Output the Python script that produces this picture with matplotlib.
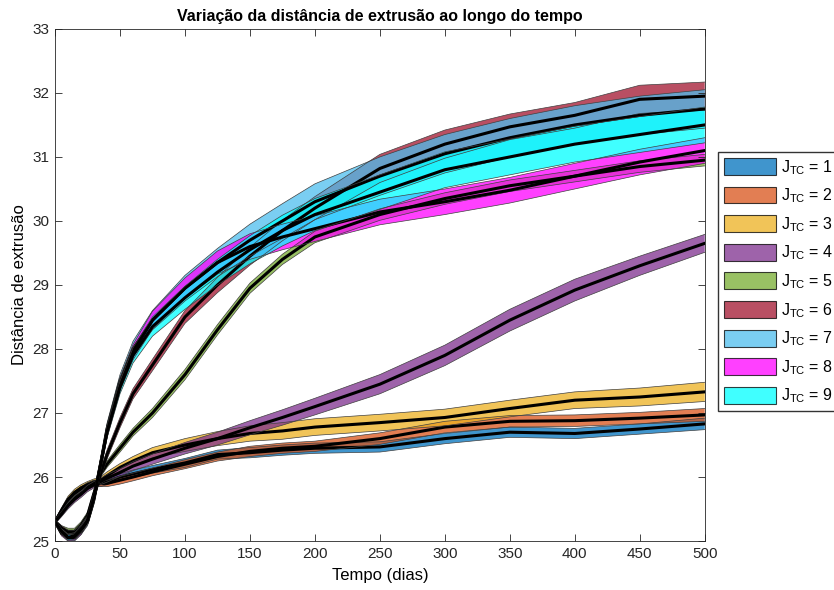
import matplotlib
matplotlib.use("Agg")
import matplotlib.pyplot as plt
from matplotlib.patches import Patch
import numpy as np

plt.rcParams["font.family"] = ["Liberation Sans", "DejaVu Sans"]
plt.rcParams["mathtext.default"] = "regular"

# sample days (dias)
days = [0, 5, 10, 15, 20, 25, 30, 35, 40, 50, 60, 75, 100, 125, 150, 175, 200,
        250, 300, 350, 400, 450, 500]

# mean extrusion distance per J_TC value
mean_j1 = [25.3, 25.47, 25.62, 25.72, 25.8, 25.86, 25.9, 25.9, 25.93, 26.0, 26.05, 26.12, 26.22,
           26.35, 26.38, 26.42, 26.45, 26.47, 26.6, 26.7, 26.68, 26.75, 26.83]
mean_j2 = [25.3, 25.45, 25.6, 25.7, 25.79, 25.86, 25.9, 25.9, 25.9, 25.95, 26.0, 26.08, 26.2,
           26.32, 26.4, 26.45, 26.48, 26.6, 26.78, 26.87, 26.88, 26.92, 26.97]
mean_j3 = [25.3, 25.48, 25.65, 25.76, 25.83, 25.88, 25.92, 25.95, 26.02, 26.15, 26.25, 26.38, 26.5,
           26.6, 26.68, 26.72, 26.78, 26.85, 26.93, 27.07, 27.2, 27.25, 27.33]
mean_j4 = [25.3, 25.42, 25.55, 25.65, 25.73, 25.82, 25.88, 25.93, 25.98, 26.07, 26.17, 26.28, 26.45,
           26.6, 26.77, 26.93, 27.1, 27.45, 27.9, 28.45, 28.92, 29.3, 29.65]
mean_j5 = [25.3, 25.2, 25.15, 25.15, 25.25, 25.4, 25.75, 26.05, 26.2, 26.45, 26.7, 27.0, 27.6,
           28.3, 28.95, 29.4, 29.75, 30.1, 30.35, 30.55, 30.7, 30.85, 30.95]
mean_j6 = [25.3, 25.2, 25.12, 25.12, 25.2, 25.35, 25.7, 26.05, 26.35, 26.85, 27.3, 27.75, 28.5,
           29.0, 29.45, 29.85, 30.2, 30.82, 31.2, 31.47, 31.65, 31.9, 31.95]
mean_j7 = [25.3, 25.15, 25.05, 25.05, 25.15, 25.3, 25.65, 26.2, 26.75, 27.5, 28.0, 28.45, 28.95,
           29.35, 29.7, 30.0, 30.3, 30.7, 31.05, 31.3, 31.5, 31.65, 31.75]
mean_j8 = [25.3, 25.12, 25.05, 25.06, 25.15, 25.32, 25.7, 26.2, 26.7, 27.45, 27.95, 28.45, 28.95,
           29.35, 29.6, 29.75, 29.88, 30.14, 30.3, 30.48, 30.7, 30.92, 31.1]
mean_j9 = [25.3, 25.15, 25.06, 25.08, 25.18, 25.32, 25.68, 26.18, 26.7, 27.4, 27.9, 28.35, 28.8,
           29.2, 29.55, 29.85, 30.1, 30.45, 30.8, 31.0, 31.2, 31.35, 31.5]

# half width of the shaded band around each mean
hw_j1 = [0.03, 0.04, 0.05, 0.05, 0.05, 0.05, 0.05, 0.05, 0.05, 0.05, 0.06, 0.06, 0.07, 0.07, 0.08,
         0.08, 0.08, 0.08, 0.08, 0.08, 0.08, 0.08, 0.09]
hw_j2 = [0.03, 0.04, 0.05, 0.05, 0.05, 0.05, 0.05, 0.05, 0.05, 0.06, 0.06, 0.06, 0.07, 0.07, 0.08,
         0.08, 0.08, 0.09, 0.09, 0.09, 0.09, 0.09, 0.1]
hw_j3 = [0.03, 0.04, 0.05, 0.05, 0.05, 0.05, 0.05, 0.05, 0.06, 0.06, 0.07, 0.08, 0.1, 0.11, 0.12,
         0.13, 0.13, 0.13, 0.13, 0.13, 0.13, 0.14, 0.15]
hw_j4 = [0.03, 0.04, 0.05, 0.05, 0.05, 0.05, 0.05, 0.05, 0.06, 0.06, 0.07, 0.08, 0.09, 0.1, 0.11,
         0.12, 0.13, 0.15, 0.16, 0.17, 0.17, 0.15, 0.14]
hw_j5 = [0.03, 0.04, 0.05, 0.05, 0.05, 0.05, 0.05, 0.05, 0.05, 0.06, 0.06, 0.07, 0.08, 0.08, 0.08,
         0.08, 0.09, 0.09, 0.09, 0.09, 0.09, 0.09, 0.09]
hw_j6 = [0.03, 0.04, 0.05, 0.05, 0.05, 0.05, 0.06, 0.06, 0.07, 0.08, 0.08, 0.09, 0.1, 0.12, 0.14,
         0.16, 0.18, 0.22, 0.22, 0.2, 0.2, 0.22, 0.22]
hw_j7 = [0.03, 0.04, 0.05, 0.05, 0.05, 0.06, 0.07, 0.08, 0.09, 0.1, 0.12, 0.15, 0.2, 0.22, 0.25,
         0.27, 0.28, 0.3, 0.3, 0.3, 0.3, 0.3, 0.3]
hw_j8 = [0.03, 0.04, 0.05, 0.05, 0.05, 0.06, 0.07, 0.08, 0.09, 0.1, 0.12, 0.14, 0.16, 0.18, 0.2,
         0.2, 0.2, 0.2, 0.2, 0.2, 0.2, 0.2, 0.2]
hw_j9 = [0.03, 0.04, 0.05, 0.05, 0.05, 0.06, 0.07, 0.08, 0.09, 0.1, 0.12, 0.15, 0.18, 0.2, 0.22,
         0.24, 0.25, 0.27, 0.28, 0.28, 0.28, 0.28, 0.28]

labels = [f"J$_{{TC}}$ = {j}" for j in range(1, 10)]
colors = [(0.0, 0.447, 0.741), (0.85, 0.325, 0.098), (0.929, 0.694, 0.125),
          (0.494, 0.184, 0.556), (0.466, 0.674, 0.188), (0.635, 0.078, 0.184),
          (0.301, 0.745, 0.933), (1.0, 0.0, 1.0), (0.0, 1.0, 1.0)]
means = [mean_j1, mean_j2, mean_j3, mean_j4, mean_j5, mean_j6, mean_j7, mean_j8, mean_j9]
widths = [hw_j1, hw_j2, hw_j3, hw_j4, hw_j5, hw_j6, hw_j7, hw_j8, hw_j9]
alpha = 0.75

fig = plt.figure(figsize=(8.34, 5.90), dpi=100)
ax = fig.add_axes([0.066, 0.083, 0.779, 0.868])

t = np.array(days)
for m, w, c in zip(means, widths, colors):
    m = np.array(m)
    w = np.array(w)
    # band, thin dark outline, then the mean on top
    ax.fill_between(t, m - w, m + w, facecolor=c, alpha=alpha,
                    edgecolor="none")
    ax.plot(t, m - w, color="0.25", lw=0.5)
    ax.plot(t, m + w, color="0.25", lw=0.5)
    ax.plot(t, m, color="black", lw=2.2)

ax.set_xlim(0, 500)
ax.set_ylim(25, 33)
ax.set_xticks(range(0, 501, 50))
ax.set_yticks(range(25, 34))
ax.tick_params(direction="in", top=True, right=True, labelsize=11,
               length=5, width=0.6, colors="0.15", pad=4)
for s in ax.spines.values():
    s.set_color("0.15")
    s.set_linewidth(0.6)

ax.set_title("Variação da distância de extrusão ao longo do tempo",
             fontsize=11.5, fontweight="bold", pad=6)
ax.set_xlabel("Tempo (dias)", fontsize=12, labelpad=5)
ax.set_ylabel("Distância de extrusão", fontsize=12, labelpad=4)

handles = [Patch(facecolor=c, alpha=alpha, edgecolor="black", linewidth=0.8) for c in colors]
leg = fig.legend(handles, labels, loc="upper left", bbox_to_anchor=(0.861, 0.742),
                 fontsize=11.5, frameon=True, fancybox=False, edgecolor="black",
                 handlelength=3.3, handleheight=1.25, labelspacing=0.62,
                 handletextpad=0.3, borderpad=0.35, borderaxespad=0)
leg.get_frame().set_linewidth(1.0)

fig.savefig("out.png", dpi=100)
